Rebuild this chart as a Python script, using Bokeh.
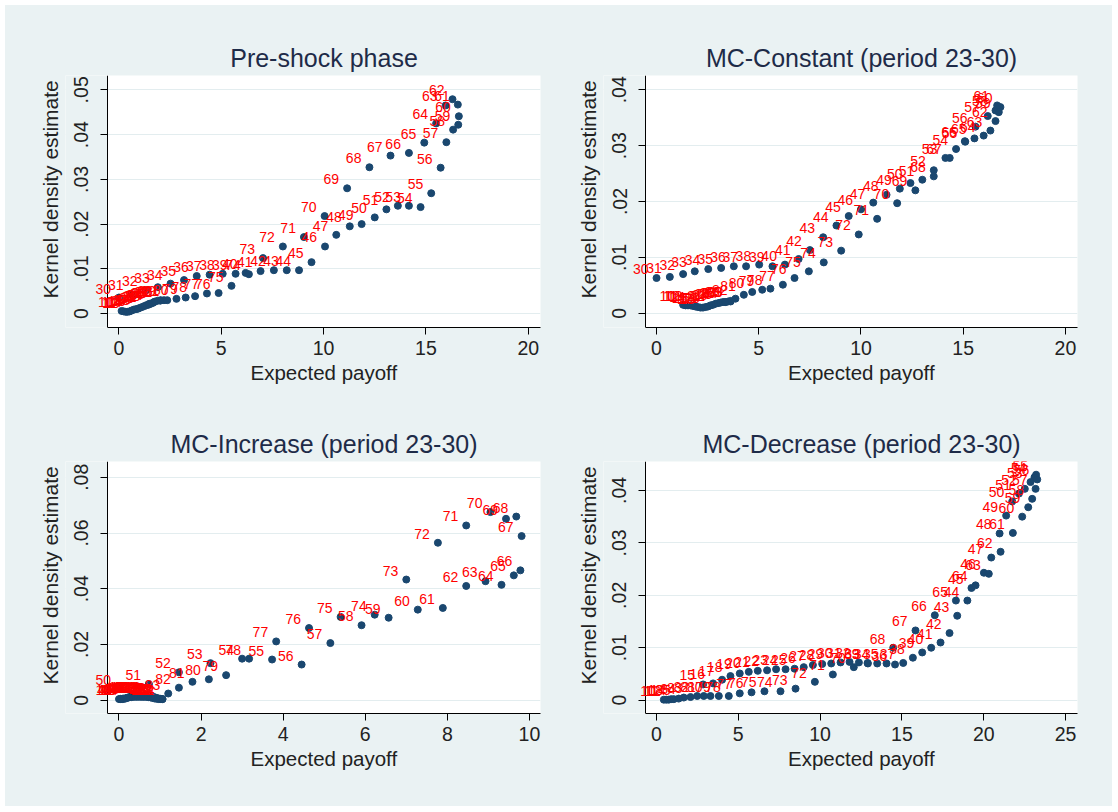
from bokeh.plotting import figure
from bokeh.models import (ColumnDataSource, LabelSet, FixedTicker, CustomJSTickFormatter, Range1d,
                          BoxAnnotation, Title)
from bokeh.layouts import gridplot
from bokeh.core.properties import value
from bokeh.embed import file_html
from bokeh.resources import INLINE

# ---------------- data ----------------
titles = ["Pre-shock phase", "MC-Constant (period 23-30)",
          "MC-Increase (period 23-30)", "MC-Decrease (period 23-30)"]
x_label = "Expected payoff"
y_label = "Kernel density estimate"

# Pre-shock phase (labels start at 10)
pre_x = [0.13, 0.23, 0.33, 0.42, 0.52, 0.62, 0.73, 0.83, 0.93, 1.03, 1.14, 1.25, 1.35, 1.45, 1.55,
         1.65, 1.76, 1.90, 2.04, 2.20,
         0.00, 0.62, 1.30, 1.90, 2.52, 3.18, 3.80, 4.43, 5.07, 5.70, 6.19, 6.92, 7.57, 8.20, 8.80,
         9.41, 10.07, 10.62, 11.28, 11.86, 12.50, 13.07, 13.63, 14.17, 14.74, 15.26, 15.72, 16.00,
         16.33, 16.58, 16.61, 16.56, 16.30, 15.96, 15.50, 14.92, 14.17, 13.27, 12.24, 11.15, 10.05,
         9.04, 8.01, 7.04,
         6.35, 5.50, 4.87, 4.30, 3.72, 3.26, 2.81, 2.36, 2.02, 1.72, 1.48]
pre_y = [0.0006, 0.0005, 0.0004, 0.0004, 0.0005, 0.0007, 0.0009, 0.0010, 0.0011, 0.0013, 0.0015,
         0.0017, 0.0019, 0.0020, 0.0022, 0.0024, 0.0027, 0.0029, 0.0030, 0.0030,
         0.0036, 0.0043, 0.0052, 0.0059, 0.0067, 0.0075, 0.0084, 0.0087, 0.0089, 0.0089, 0.0091,
         0.0095, 0.0097, 0.0097, 0.0097,
         0.0115, 0.0150, 0.0176, 0.0195, 0.0200, 0.0215, 0.0233, 0.0241, 0.0241, 0.0238, 0.0269,
         0.0326, 0.0383, 0.0411, 0.0422, 0.0441, 0.0467, 0.0479, 0.0465, 0.0425, 0.0382, 0.0359,
         0.0353, 0.0327, 0.0280, 0.0218, 0.0171, 0.0150, 0.0124,
         0.0088, 0.0062, 0.0046, 0.0045, 0.0039, 0.0036, 0.0033, 0.0030, 0.0029, 0.0026, 0.0022]

# MC-Constant
con_x = [1.30, 1.42, 1.54, 1.66, 1.78, 1.90, 2.02, 2.15, 2.27, 2.40, 2.52, 2.64, 2.76, 2.89, 3.01,
         3.13, 3.25, 3.37, 3.50, 3.62,
         0.00, 0.65, 1.30, 1.87, 2.53, 3.16, 3.78, 4.38, 5.02, 5.67, 6.28,
         6.95, 7.50, 8.15, 8.80, 9.40, 10.00, 10.60, 11.25, 11.90, 12.42, 13.00, 13.56, 14.13, 14.65,
         15.10, 15.60, 16.20, 16.58, 16.74, 16.82, 16.66,
         16.58, 16.33, 16.00, 15.55, 15.08, 14.34, 13.56, 12.66, 11.77, 10.79, 9.89, 9.03, 8.18,
         7.45, 6.75, 6.18, 5.57, 5.17, 4.68, 4.27, 3.86, 3.62, 3.37]
con_y = [0.0015, 0.0014, 0.0014, 0.0014, 0.0013, 0.0012, 0.0011, 0.0010, 0.0010, 0.0011, 0.0012,
         0.0014, 0.0015, 0.0017, 0.0018, 0.0019, 0.0020, 0.0020, 0.0021, 0.0021,
         0.0063, 0.0065, 0.0070, 0.0075, 0.0079, 0.0081, 0.0084, 0.0084, 0.0087, 0.0084, 0.0087,
         0.0097, 0.0113, 0.0136, 0.0157, 0.0174, 0.0186, 0.0198, 0.0212, 0.0223, 0.0233, 0.0239,
         0.0256, 0.0278, 0.0294, 0.0307, 0.0334, 0.0353, 0.0363, 0.0360, 0.0369, 0.0372,
         0.0344, 0.0327, 0.0318, 0.0313, 0.0308, 0.0278, 0.0245, 0.0220, 0.0197, 0.0169, 0.0141,
         0.0112, 0.0091, 0.0075, 0.0063, 0.0051, 0.0044, 0.0042, 0.0038, 0.0033, 0.0026, 0.0022,
         0.0020]

# MC-Increase
inc_x = [0.00, 0.04, 0.08, 0.12, 0.16, 0.21, 0.27, 0.32, 0.37, 0.42, 0.46, 0.52, 0.57, 0.62, 0.67,
         0.72, 0.77, 0.82, 0.87, 0.92, 0.97, 1.02, 1.06, 1.01, 0.95, 0.90, 0.84, 0.78, 0.72, 0.66,
         0.60, 0.54, 0.48, 0.42, 0.36, 0.30, 0.24, 0.18, 0.10, 0.04,
         0.00, 0.73, 1.46, 2.23, 3.00, 3.73, 4.45, 5.15, 5.91, 6.57, 7.28, 7.89, 8.46, 8.93, 9.32,
         9.62, 9.78, 9.81, 9.68, 9.43, 9.05, 8.46, 7.77, 7.00, 6.23, 5.40, 4.63, 3.83, 3.17, 2.61,
         2.19, 1.79, 1.46, 1.20, 1.06]
inc_y = [0.0004, 0.0004, 0.0004, 0.0005, 0.0006, 0.0009, 0.0012, 0.0014, 0.0014, 0.0014, 0.0014,
         0.0013, 0.0012, 0.0012, 0.0012, 0.0011, 0.0010, 0.0008, 0.0006, 0.0005, 0.0004, 0.0004,
         0.0004, 0.0005, 0.0007, 0.0009, 0.0012, 0.0013, 0.0014, 0.0014, 0.0014, 0.0013, 0.0012,
         0.0012, 0.0012, 0.0011, 0.0010, 0.0008, 0.0006, 0.0005,
         0.0041, 0.0058, 0.0100, 0.0133, 0.0149, 0.0146, 0.0128, 0.0205, 0.0269, 0.0296, 0.0325,
         0.0331, 0.0410, 0.0427, 0.0414, 0.0448, 0.0466, 0.0589, 0.0659, 0.0651, 0.0675, 0.0627,
         0.0565, 0.0433, 0.0307, 0.0299, 0.0259, 0.0211, 0.0149, 0.0090, 0.0075, 0.0066, 0.0045,
         0.0024, 0.0004]

# MC-Decrease
dec_x = [0.45, 0.60, 0.75, 0.90, 1.06,
         2.85, 3.46, 4.01, 4.52, 5.09, 5.64, 6.19, 6.76, 7.31, 7.89, 8.44, 9.00, 9.56, 10.13,
         10.68, 11.25, 11.80, 12.37, 12.92, 13.49, 14.06, 14.58, 15.08,
         15.67, 16.24, 16.79, 17.36, 17.91, 18.38, 19.00, 19.25, 20.01, 20.46, 20.97, 21.37, 21.74,
         22.15, 22.51, 22.86, 23.10, 23.20,
         23.27, 23.17, 22.96, 22.72, 22.35, 21.78, 21.03, 20.31, 19.50, 18.30, 17.01, 15.83, 14.47,
         12.90, 12.06, 10.78, 9.68, 8.50, 7.58, 6.60, 5.81, 5.09, 4.42, 3.81, 3.30, 2.89, 2.49,
         2.08, 1.67, 1.36]
dec_y = [0.0001, 0.0001, 0.0001, 0.0002, 0.0002,
         0.0030, 0.0032, 0.0039, 0.0046, 0.0051, 0.0054, 0.0056, 0.0057, 0.0059, 0.0059, 0.0060,
         0.0063, 0.0067, 0.0069, 0.0070, 0.0072, 0.0073, 0.0072, 0.0070, 0.0070, 0.0070, 0.0068,
         0.0071,
         0.0081, 0.0091, 0.0100, 0.0110, 0.0128, 0.0161, 0.0190, 0.0214, 0.0243, 0.0272, 0.0318,
         0.0352, 0.0379, 0.0394, 0.0403, 0.0416, 0.0425, 0.0430,
         0.0421, 0.0403, 0.0384, 0.0368, 0.0350, 0.0319, 0.0283, 0.0241, 0.0219, 0.0190, 0.0162,
         0.0133, 0.0100, 0.0071, 0.0063, 0.0049, 0.0035, 0.0022, 0.0017, 0.0017, 0.0015, 0.0013,
         0.0008, 0.0008, 0.0008, 0.0008, 0.0008, 0.0006, 0.0005, 0.0003]

first_label = 10

x_ticks = [[0, 5, 10, 15, 20], [0, 5, 10, 15, 20], [0, 2, 4, 6, 8, 10], [0, 5, 10, 15, 20, 25]]
y_ticks = [[0, 0.01, 0.02, 0.03, 0.04, 0.05], [0, 0.01, 0.02, 0.03, 0.04],
           [0, 0.02, 0.04, 0.06, 0.08], [0, 0.01, 0.02, 0.03, 0.04]]

# ---------------- style ----------------
FONT = "Liberation Sans"
BG = "#EAF2F3"
NAVY = "#1A476F"
TXT = "#222222"
TITLE_C = "#1E2B48"
TITLE_PX = 25
XLAB_PX = 20.5
YLAB_PX = 21

x_ranges = [(-0.56, 20.6), (-0.54, 20.59), (-0.28, 10.27), (-0.67, 25.73)]
y_ranges = [(-0.0031, 0.0532), (-0.00256, 0.04256), (-0.00477, 0.08566), (-0.00254, 0.04552)]
# width, height, border left/right/top/bottom (frame is 433/432 x 252)
sizes = [(554, 397, 102, 19, 70, 75), (553, 397, 86, 35, 70, 75),
         (554, 404, 102, 19, 59, 93), (553, 404, 86, 35, 59, 93)]
EXT = 42  # px of extra frame left of the y axis: room for overflowing labels and tick labels

# Arial/Liberation Sans advance widths (1/1000 em) used to centre texts on the real plot area
ADV = {"P": 667, "r": 333, "e": 556, "-": 333, "s": 500, "h": 556, "o": 556, "c": 500, "k": 500,
       " ": 278, "p": 556, "a": 556, "M": 833, "C": 722, "n": 556, "t": 278, "(": 333, "i": 222,
       "d": 556, "2": 556, "3": 556, "0": 556, ")": 333, "I": 278, "D": 722, "E": 667, "x": 500,
       "y": 500, "f": 278}

yfmt = CustomJSTickFormatter(code="""
    if (Math.abs(tick) < 1e-12) { return "0"; }
    return tick.toFixed(2).replace(/^0/, "");
""")


def text_width(s, px):
    return sum(ADV.get(ch, 556) for ch in s) / 1000.0 * px


def make_panel(i, xs, ys):
    w, h, bl, br, bt, bb = sizes[i]
    x_lo, x_hi = x_ranges[i]
    fw = w - bl - br
    ppu = fw / (x_hi - x_lo)
    new_lo = x_lo - EXT / ppu
    p = figure(width=w, height=h, x_range=Range1d(new_lo, x_hi), y_range=Range1d(*y_ranges[i]),
               output_backend="svg", toolbar_location=None,
               min_border_left=bl - EXT, min_border_right=br, min_border_top=bt,
               min_border_bottom=bb)
    p.background_fill_color = "white"
    p.border_fill_color = BG
    p.outline_line_color = None

    p.title.text = titles[i]
    p.title.text_font = FONT
    p.title.text_font_size = f"{TITLE_PX}px"
    p.title.text_font_style = "normal"
    p.title.text_color = TITLE_C
    p.title.align = "left"
    p.title.offset = EXT + (fw - text_width(titles[i], TITLE_PX)) / 2
    p.title.standoff = 8

    p.xgrid.visible = False
    p.ygrid.grid_line_color = "#E3EDEF"
    p.ygrid.grid_line_width = 1

    p.add_layout(BoxAnnotation(left=new_lo, right=x_lo, fill_color=BG, fill_alpha=1.0,
                               line_color=None, level="underlay"))

    xax = p.xaxis[0]
    yax = p.yaxis[0]
    xax.ticker = FixedTicker(ticks=x_ticks[i])
    xax.bounds = (x_lo, x_hi)
    yax.ticker = FixedTicker(ticks=y_ticks[i])
    yax.formatter = yfmt
    yax.major_label_orientation = "vertical"
    yax.fixed_location = x_lo

    for ax in (xax, yax):
        ax.axis_line_color = "black"
        ax.axis_line_width = 1
        ax.major_tick_line_color = "black"
        ax.major_tick_out = 7
        ax.major_tick_in = 0
        ax.minor_tick_line_color = None
        ax.major_label_text_font = FONT
        ax.major_label_text_font_size = "19.5px"
        ax.major_label_text_color = TXT

    xax.major_label_standoff = 6
    yax.major_label_standoff = 12

    # axis titles, centred on the real plot area (not on the widened frame)
    xt = Title(text=x_label, align="left",
               offset=EXT + (fw - text_width(x_label, XLAB_PX)) / 2,
               text_font=FONT, text_font_size=f"{XLAB_PX}px", text_font_style="normal",
               text_color=TXT, standoff=3)
    p.add_layout(xt, "below")
    yt = Title(text=y_label, align="left", offset=29,
               text_font=FONT, text_font_size=f"{YLAB_PX}px", text_font_style="normal",
               text_color=TXT, standoff=8)
    p.add_layout(yt, "left")

    labels = [str(first_label + k) for k in range(len(xs))]
    src = ColumnDataSource(dict(x=xs, y=ys, t=labels))
    p.scatter("x", "y", source=src, size=7, fill_color=NAVY, line_color=NAVY)
    ls = LabelSet(x="x", y="y", text="t", source=src, x_offset=-8, y_offset=9,
                  text_align="right", text_baseline="middle", text_color="#FF0000",
                  text_font=value(FONT), text_font_size="14px")
    p.add_layout(ls)
    return p


p1 = make_panel(0, pre_x, pre_y)
p2 = make_panel(1, con_x, con_y)
p3 = make_panel(2, inc_x, inc_y)
p4 = make_panel(3, dec_x, dec_y)

grid = gridplot([[p1, p2], [p3, p4]], toolbar_location=None)
grid.margin = (5, 0, 0, 5)
grid.styles = {"background-color": BG}

open("out.html", "w").write(file_html(grid, INLINE, title="Kernel density vs expected payoff"))
